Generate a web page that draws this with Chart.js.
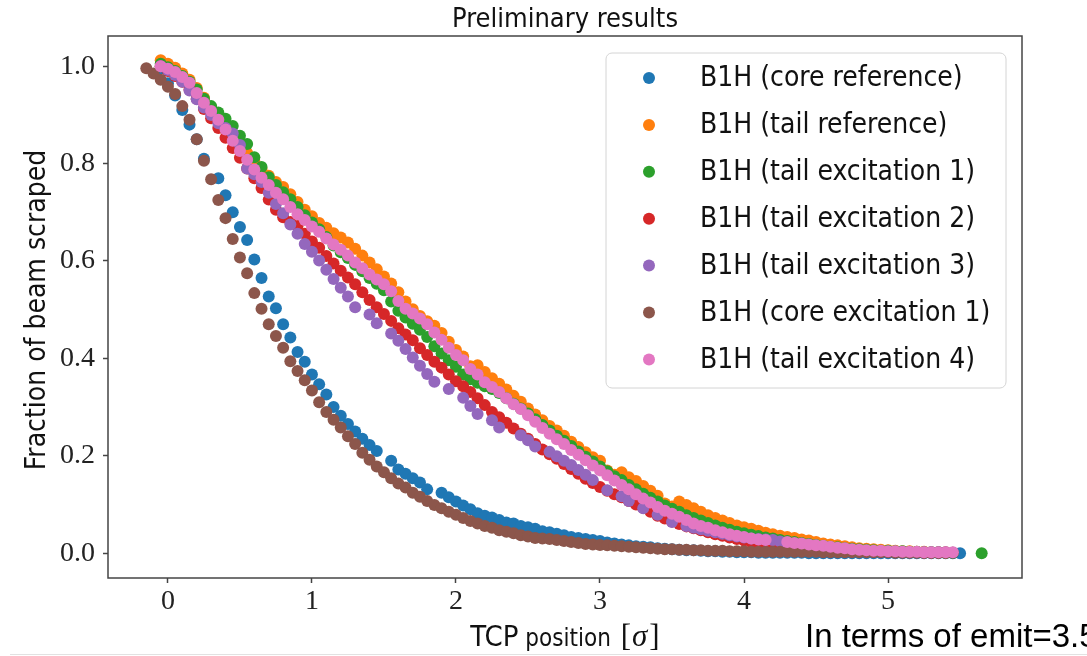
<!DOCTYPE html>
<html lang="en">
<head>
<meta charset="UTF-8">
<title>Preliminary results</title>
<script src="https://cdn.jsdelivr.net/npm/chart.js"></script>
<style>
  html, body { margin: 0; padding: 0; background: #fff; }
  body { width: 1087px; height: 656px; overflow: hidden; position: relative; }
  #wrap { position: absolute; left: 0; top: 0; width: 1087px; height: 656px; }
  #note { position: absolute; left: 805px; top: 619px; font: 33px/1 "Liberation Sans", Arial, sans-serif; white-space: nowrap; color: #000; }
  #rule { position: absolute; left: 10px; right: 0; top: 654px; border-top: 1px solid #e2e2e2; }
</style>
</head>
<body>
<div id="wrap"><canvas id="chart"></canvas></div>
<div id="note">In terms of emit=3.5</div>
<div id="rule"></div>
<script>
// TCP position [sigma], shared by all series (null = no point at that step)
const tcpPos = [
  -0.15, -0.10, -0.05, 0.00, 0.05, 0.10, 0.15, 0.20, 0.25, 0.30,
  0.35, 0.40, 0.45, 0.50, 0.55, 0.60, 0.65, 0.70, 0.75, 0.80,
  0.85, 0.90, 0.95, 1.00, 1.05, 1.10, 1.15, 1.20, 1.25, 1.30,
  1.35, 1.40, 1.45, 1.50, 1.55, 1.60, 1.65, 1.70, 1.75, 1.80,
  1.85, 1.90, 1.95, 2.00, 2.05, 2.10, 2.15, 2.20, 2.25, 2.30,
  2.35, 2.40, 2.45, 2.50, 2.55, 2.60, 2.65, 2.70, 2.75, 2.80,
  2.85, 2.90, 2.95, 3.00, 3.05, 3.10, 3.15, 3.20, 3.25, 3.30,
  3.35, 3.40, 3.45, 3.50, 3.55, 3.60, 3.65, 3.70, 3.75, 3.80,
  3.85, 3.90, 3.95, 4.00, 4.05, 4.10, 4.15, 4.20, 4.25, 4.30,
  4.35, 4.40, 4.45, 4.50, 4.55, 4.60, 4.65, 4.70, 4.75, 4.80,
  4.85, 4.90, 4.95, 5.00, 5.05, 5.10, 5.15, 5.20, 5.25, 5.30,
  5.35, 5.40, 5.45, 5.50, 5.55, 5.60, 5.65
];

const coreReference = [
  null, null, 0.995, 0.965, 0.94, 0.91, 0.88, 0.85, 0.81, null,
  0.77, 0.735, 0.70, 0.67, 0.643, 0.603, 0.565, 0.527, 0.503, 0.47,
  0.443, 0.413, 0.393, 0.367, 0.347, 0.326, 0.30, 0.282, 0.265, 0.25,
  0.235, 0.222, 0.21, null, 0.19, 0.172, 0.163, 0.154, 0.145, 0.131,
  null, 0.124, 0.115, 0.106, 0.098, 0.09, 0.082, 0.077, 0.073, 0.068,
  0.063, 0.061, 0.056, 0.053, 0.05, 0.045, 0.043, 0.04, 0.037, 0.033,
  0.031, 0.029, 0.027, 0.025, 0.022, 0.02, 0.018, 0.016, 0.014, 0.013,
  0.012, 0.010, 0.009, 0.008, 0.007, 0.006, 0.006, 0.005, 0.004, 0.004,
  0.003, 0.003, 0.002, 0.002, 0.002, 0.001, 0.001, 0.001, 0.001, 0.001,
  0.001, 0.001, 0, 0, 0, 0, 0, 0, 0, 0,
  0, 0, 0, 0, 0, 0, 0, 0, 0, 0,
  0, 0, 0, 0, null, null, null
];

const tailReference = [
  null, null, 1.012, 1.005, 0.997, 0.985, 0.972, 0.955, 0.935, 0.915,
  0.897, 0.878, 0.86, 0.84, 0.822, 0.805, 0.789, 0.775, 0.762, 0.752,
  0.737, 0.721, 0.705, 0.692, 0.678, 0.668, 0.657, 0.648, 0.638, 0.625,
  0.611, 0.597, 0.583, 0.568, 0.554, 0.536, 0.517, 0.501, 0.487, 0.476,
  0.467, 0.452, 0.434, 0.417, 0.404, 0.384, 0.386, 0.372, 0.359, 0.348,
  0.336, 0.323, 0.311, 0.297, 0.285, 0.273, 0.261, 0.252, 0.241, 0.229,
  0.218, 0.207, 0.197, 0.19, 0.17, 0.161, 0.166, 0.156, 0.148, 0.138,
  0.128, 0.118, 0.102, 0.096, 0.106, 0.099, 0.092, 0.085, 0.078, 0.072,
  0.067, 0.062, 0.057, 0.053, 0.05, 0.046, 0.042, 0.039, 0.036, 0.033,
  0.031, 0.028, 0.026, 0.023, 0.02, 0.018, 0.016, 0.014, 0.012, 0.010,
  0.009, 0.008, 0.007, 0.006, 0.005, 0.004, 0.004, 0.003, 0.003, 0.002,
  0.002, 0.002, null, null, null, null, null
];

const tailExcitation1 = [
  null, null, 1.005, 0.998, 0.99, 0.98, 0.968, 0.952, 0.933, 0.918,
  0.905, 0.892, 0.877, 0.857, 0.84, 0.813, 0.793, 0.772, 0.756, 0.741,
  0.727, 0.711, 0.694, 0.679, 0.665, 0.649, 0.632, 0.618, 0.606, 0.592,
  0.579, 0.565, 0.553, 0.54, 0.517, 0.498, 0.484, 0.471, 0.459, 0.444,
  0.425, 0.41, 0.396, 0.383, 0.367, 0.357, 0.35, 0.343, 0.337, 0.329,
  0.318, 0.307, 0.297, 0.287, 0.275, 0.263, 0.252, 0.241, 0.231, 0.22,
  0.209, 0.198, 0.188, 0.178, 0.168, 0.158, 0.15, 0.14, 0.131, 0.122,
  0.114, 0.106, 0.098, 0.091, 0.085, 0.078, 0.072, 0.067, 0.062, 0.057,
  0.052, 0.048, 0.044, 0.041, 0.038, 0.035, 0.032, 0.03, 0.027, 0.025,
  0.023, 0.021, 0.019, 0.017, 0.015, 0.013, 0.012, 0.010, 0.009, 0.008,
  0.007, 0.006, 0.005, 0.005, 0.004, 0.004, 0.003, 0.003, 0.002, 0.002,
  0.002, 0.001, 0.001, null, null, null, 0.0
];

const tailExcitation2 = [
  null, null, 1.0, 0.99, 0.98, 0.968, 0.952, 0.933, 0.912, 0.893,
  0.873, 0.853, 0.832, 0.812, 0.79, 0.77, 0.75, 0.726, 0.705, 0.69,
  0.68, 0.672, 0.656, 0.64, 0.627, 0.61, 0.595, 0.58, 0.566, 0.552,
  0.536, 0.52, 0.505, 0.491, 0.477, 0.462, 0.449, 0.437, 0.421, 0.407,
  0.393, 0.381, 0.367, 0.353, 0.343, 0.331, 0.318, 0.304, 0.29, 0.279,
  0.268, 0.256, 0.245, 0.235, 0.224, 0.213, 0.203, 0.194, 0.183, 0.173,
  0.163, 0.153, 0.144, 0.136, 0.128, 0.121, 0.115, 0.107, 0.1, 0.093,
  0.085, 0.077, 0.071, 0.065, 0.06, 0.055, 0.051, 0.047, 0.043, 0.039,
  0.036, 0.032, 0.029, 0.026, 0.023, 0.021, 0.019, 0.018, 0.016, 0.014,
  0.012, 0.011, 0.010, 0.009, 0.008, 0.007, 0.006, 0.005, 0.005, 0.004,
  0.004, 0.003, 0.003, 0.003, 0.002, 0.002, 0.002, 0.002, 0.001, 0.001,
  0.001, 0.001, null, null, null, null, null
];

const tailExcitation3 = [
  null, null, 1.0, 0.992, 0.982, 0.968, 0.95, 0.932, 0.915, 0.9,
  0.883, 0.873, 0.862, 0.838, 0.79, 0.778, 0.762, 0.74, 0.717, 0.698,
  0.675, 0.656, 0.635, 0.619, 0.601, 0.582, 0.563, 0.545, 0.527, 0.505,
  null, 0.49, 0.472, null, 0.451, 0.436, 0.419, 0.402, 0.385, 0.368,
  0.352, null, 0.337, null, 0.319, 0.302, 0.286, null, 0.273, 0.258,
  null, null, 0.242, 0.232, 0.219, null, 0.208, 0.199, 0.19, 0.181,
  0.171, 0.161, 0.15, null, 0.129, null, 0.117, 0.107, null, 0.092,
  null, 0.079, null, 0.064, null, 0.056, 0.052, 0.049, 0.046, 0.043,
  0.040, 0.037, 0.034, 0.032, 0.030, 0.029, 0.028, 0.027, 0.024, 0.020,
  0.017, 0.014, 0.012, 0.010, 0.008, 0.007, 0.006, 0.005, 0.005, 0.004,
  0.004, 0.004, 0.003, 0.003, 0.003, 0.003, 0.002, 0.002, 0.002, 0.002,
  0.002, 0.002, null, null, null, null, null
];

const coreExcitation1 = [
  0.996, 0.985, 0.972, 0.958, 0.943, 0.918, 0.89, 0.85, 0.806, 0.768,
  0.725, 0.688, 0.645, 0.607, 0.575, 0.534, 0.502, 0.47, 0.446, 0.422,
  0.394, 0.374, 0.355, 0.334, 0.31, 0.29, 0.274, 0.258, 0.24, 0.224,
  0.206, 0.192, 0.178, 0.166, 0.154, 0.143, 0.135, 0.124, 0.116, 0.107,
  0.099, 0.092, 0.085, 0.079, 0.072, 0.066, 0.061, 0.056, 0.052, 0.047,
  0.044, 0.041, 0.037, 0.034, 0.031, 0.030, 0.029, 0.027, 0.025, 0.023,
  0.021, 0.019, 0.018, 0.017, 0.016, 0.015, 0.014, 0.013, 0.012, 0.011,
  0.010, 0.009, 0.008, 0.008, 0.007, 0.007, 0.006, 0.006, 0.005, 0.005,
  0.005, 0.004, 0.004, 0.004, 0.003, 0.003, 0.003, 0.003, 0.003, 0.003,
  0.003, 0.003, 0.003, 0.003, 0.002, 0.002, 0.002, 0.002, 0.002, 0.002,
  0.002, 0.002, 0.002, 0.002, 0.001, 0.001, 0.001, 0.001, 0.001, 0.001,
  0.001, 0.001, 0.001, null, null, null, null
];

const tailExcitation4 = [
  null, null, 1.0, 0.995, 0.988, 0.978, 0.966, 0.945, 0.925, 0.908,
  0.89, 0.87, 0.847, 0.826, 0.808, 0.788, 0.771, 0.756, 0.74, 0.727,
  0.711, 0.696, 0.684, 0.671, 0.66, 0.646, 0.634, 0.623, 0.611, 0.597,
  0.585, 0.572, 0.562, 0.552, 0.538, 0.518, 0.502, 0.492, 0.482, 0.47,
  0.453, 0.438, 0.422, 0.407, 0.396, 0.378, 0.367, 0.351, 0.341, 0.331,
  0.318, 0.306, 0.296, 0.283, 0.27, 0.257, 0.245, 0.234, 0.224, 0.212,
  0.202, 0.191, 0.18, 0.17, 0.16, 0.149, 0.14, 0.131, 0.121, 0.112,
  0.104, 0.095, 0.087, 0.081, 0.075, 0.068, 0.061, 0.056, 0.052, 0.047,
  0.043, 0.039, 0.036, 0.033, 0.03, 0.028, 0.027, null, null, 0.023,
  0.021, 0.02, 0.018, 0.016, 0.015, 0.013, 0.011, 0.01, 0.008, 0.007,
  0.006, 0.005, 0.005, 0.004, 0.004, 0.003, 0.003, 0.003, 0.002, 0.002,
  0.002, 0.002, 0.002, null, null, null, null
];

const seriesLabels = [
  'B1H (core reference)', 'B1H (tail reference)', 'B1H (tail excitation 1)',
  'B1H (tail excitation 2)', 'B1H (tail excitation 3)', 'B1H (core excitation 1)',
  'B1H (tail excitation 4)'
];
const seriesValues = [coreReference, tailReference, tailExcitation1, tailExcitation2,
  tailExcitation3, coreExcitation1, tailExcitation4];
const seriesColors = ['#1f77b4', '#ff7f0e', '#2ca02c', '#d62728', '#9467bd', '#8c564b', '#e377c2'];

const xTicks = [0, 1, 2, 3, 4, 5];
const yTicks = [0.0, 0.2, 0.4, 0.6, 0.8, 1.0];

const sansFont = '"DejaVu Sans Condensed", "DejaVu Sans", sans-serif';
const serifFont = '"Liberation Serif", "DejaVu Serif", serif';
const frameColor = '#444';

const datasets = seriesValues.map((vals, i) => ({
  label: seriesLabels[i],
  data: tcpPos.map((x, k) => ({ x: x, y: vals[k] })).filter(p => p.y !== null),
  backgroundColor: seriesColors[i],
  borderWidth: 0,
  pointRadius: 6,
  pointHoverRadius: 6,
  order: seriesValues.length - i   // first series at the bottom, like matplotlib
}));

// frame, titles and legend drawn on the canvas
const decorations = {
  id: 'decorations',
  afterDraw(chart) {
    const ctx = chart.ctx;
    const a = chart.chartArea;
    ctx.save();

    // axes frame
    ctx.strokeStyle = frameColor;
    ctx.lineWidth = 1.5;
    ctx.strokeRect(a.left, a.top, a.right - a.left, a.bottom - a.top);

    ctx.fillStyle = '#111';
    // title
    ctx.font = '27px ' + sansFont;
    ctx.textAlign = 'center';
    ctx.textBaseline = 'alphabetic';
    ctx.fillText('Preliminary results', (a.left + a.right) / 2, a.top - 9);

    // y title
    ctx.save();
    ctx.translate(38, (a.top + a.bottom) / 2 + 3);
    ctx.rotate(-Math.PI / 2);
    ctx.textBaseline = 'middle';
    ctx.font = '28px ' + sansFont;
    ctx.fillText('Fraction of beam scraped', 0, 0);
    ctx.restore();

    // x title, mixed fonts
    const parts = [
      { t: 'TCP', f: '29px ' + sansFont, gap: 0 },
      { t: ' position ', f: '24px ' + sansFont, gap: 3 },
      { t: '[', f: '31px ' + serifFont, gap: 1 },
      { t: 'σ', f: 'italic 31px ' + serifFont, gap: 2 },
      { t: ']', f: '31px ' + serifFont, gap: 0 }
    ];
    let total = 0;
    parts.forEach(p => { ctx.font = p.f; p.w = ctx.measureText(p.t).width; total += p.w + p.gap; });
    let x = (a.left + a.right) / 2 - total / 2;
    ctx.textAlign = 'left';
    parts.forEach(p => { ctx.font = p.f; ctx.fillText(p.t, x, 646); x += p.w + p.gap; });

    // legend
    const lx = a.right - 416, ly = a.top + 17, lw = 400, lh = 335;
    ctx.beginPath();
    ctx.roundRect(lx, ly, lw, lh, 6);
    ctx.fillStyle = 'rgba(255,255,255,0.8)';
    ctx.fill();
    ctx.strokeStyle = '#d4d4d4';
    ctx.lineWidth = 1;
    ctx.stroke();
    ctx.font = '28px ' + sansFont;
    ctx.textBaseline = 'middle';
    ctx.textAlign = 'left';
    chart.data.datasets.forEach((ds, i) => {
      const ry = ly + 25 + i * 46.9;
      ctx.beginPath();
      ctx.arc(lx + 43, ry, 6, 0, Math.PI * 2);
      ctx.fillStyle = ds.backgroundColor;
      ctx.fill();
      ctx.fillStyle = '#111';
      ctx.fillText(ds.label, lx + 94, ry + 1);
    });
    ctx.restore();
  }
};

new Chart(document.getElementById('chart'), {
  type: 'scatter',
  data: { datasets: datasets },
  options: {
    responsive: true,
    maintainAspectRatio: false,
    animation: false,
    events: [],
    layout: { padding: { top: 36, right: 65, left: 0, bottom: 0 } },
    plugins: { legend: { display: false }, tooltip: { enabled: false }, title: { display: false } },
    scales: {
      x: {
        type: 'linear',
        min: -0.416,
        max: 5.93,
        afterBuildTicks: s => { s.ticks = xTicks.map(v => ({ value: v })); },
        afterFit: s => { s.height = 78; },
        ticks: { font: { family: serifFont, size: 28 }, color: '#222', padding: 2, maxRotation: 0,
                 callback: v => String(v) },
        grid: { drawOnChartArea: false, drawTicks: true, tickLength: 5, tickColor: frameColor, tickWidth: 1.5 },
        border: { display: false }
      },
      y: {
        type: 'linear',
        min: -0.051,
        max: 1.062,
        afterBuildTicks: s => { s.ticks = yTicks.map(v => ({ value: v })); },
        afterFit: s => { s.width = 108; },
        ticks: { font: { family: serifFont, size: 28 }, color: '#222', padding: 8,
                 callback: v => v.toFixed(1) },
        grid: { drawOnChartArea: false, drawTicks: true, tickLength: 5, tickColor: frameColor, tickWidth: 1.5 },
        border: { display: false }
      }
    }
  },
  plugins: [decorations]
});
</script>
</body>
</html>
